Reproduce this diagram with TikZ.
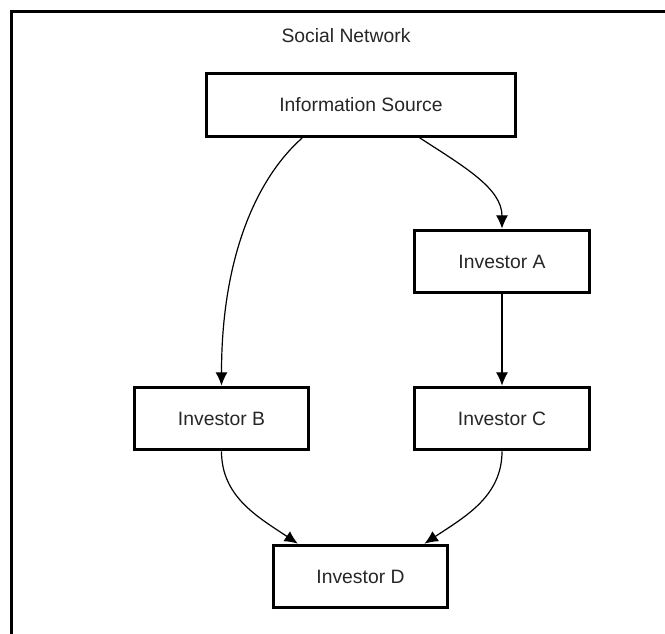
\documentclass[tikz,border=0pt]{standalone}
\usepackage{fontspec}
\setmainfont{Liberation Sans}
\usetikzlibrary{arrows.meta}

\begin{document}
\begin{tikzpicture}[x=0.75pt,y=-0.75pt,>={Latex[length=10pt,width=9pt]},
    box/.style={draw, line width=2.25pt, minimum height=47pt, text=black!85, font=\fontsize{14.5}{17}\selectfont},
    link/.style={->, line width=0.9pt}]
    \useasboundingbox (0,0) rectangle (665,634);
    \clip (0,0) rectangle (665,634);
    \draw[line width=2.25pt] (11,12) rectangle (700,700);
    \node[text=black!85, font=\fontsize{14.5}{17}\selectfont] (title) at (346,36) {Social Network};
    \node[box, minimum width=232pt] (src) at (361,105) {Information Source};
    \node[box, minimum width=131pt] (invA) at (502,261.5) {Investor A};
    \node[box, minimum width=131pt] (invB) at (221.5,418.5) {Investor B};
    \node[box, minimum width=131pt] (invC) at (502,418.5) {Investor C};
    \node[box, minimum width=131pt] (invD) at (360.5,576.5) {Investor D};
    \draw[link] ([xshift=-44pt]src.south) .. controls +(-34pt,-30pt) and +(0,97pt) .. (invB.north);
    \draw[link] ([xshift=44pt]src.south) .. controls +(34pt,-22pt) and +(0,30pt) .. (invA.north);
    \draw[link] (invA) -- (invC);
    \draw[link] (invB.south) .. controls +(0,-34pt) and +(-30pt,20pt) .. ([xshift=-47pt]invD.north);
    \draw[link] (invC.south) .. controls +(0,-34pt) and +(30pt,20pt) .. ([xshift=48pt]invD.north);
\end{tikzpicture}
\end{document}
